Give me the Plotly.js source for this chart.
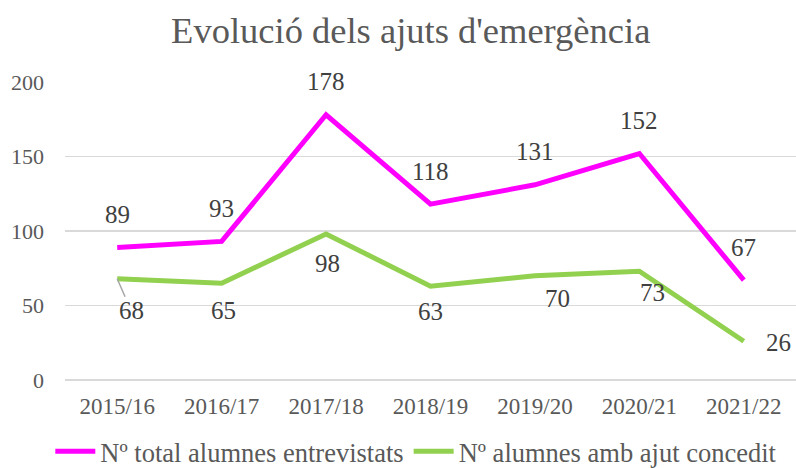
<!DOCTYPE html>
<html>
<head>
<meta charset="utf-8">
<script src="https://cdn.plot.ly/plotly-3.0.1.min.js"></script>
<style>html,body{margin:0;padding:0;background:#fff;}#chart{width:796px;height:468px;}</style>
</head>
<body>
<div id="chart"></div>
<script>
const categories = ['2015/16', '2016/17', '2017/18', '2018/19', '2019/20', '2020/21', '2021/22'];
const totalEntrevistats = [89, 93, 178, 118, 131, 152, 67];
const ambAjut = [68, 65, 98, 63, 70, 73, 26];
const seriesNames = ['Nº total alumnes entrevistats', 'Nº alumnes amb ajut concedit'];

// label offsets in pixels (style only)
const totalLabelDx = [0, 0, 0, 0, 0, 0, 0];
const totalLabelDy = [33, 33, 33, 33, 33, 33, 33];
const ajutLabelDx = [14, 2, 1, 0, 23, 13, 35];
const ajutLabelDy = [-32, -27, -30, -25, -23, -21, -1];

const FONT = 'Liberation Serif, Times New Roman, serif';
const TXT = '#595959';
const MAGENTA = '#FF00FF';
const GREEN = '#92D050';

const traces = [
  {x: categories, y: totalEntrevistats, name: seriesNames[0], type: 'scatter', mode: 'lines',
   line: {color: MAGENTA, width: 5}},
  {x: categories, y: ambAjut, name: seriesNames[1], type: 'scatter', mode: 'lines',
   line: {color: GREEN, width: 5}}
];

const annotations = [];
categories.forEach((c, i) => {
  annotations.push({x: c, y: totalEntrevistats[i], xref: 'x', yref: 'y', text: String(totalEntrevistats[i]),
    showarrow: false, xshift: totalLabelDx[i], yshift: totalLabelDy[i],
    font: {family: FONT, size: 25, color: '#404040'}});
  if (i === 0) {
    annotations.push({x: c, y: ambAjut[i], xref: 'x', yref: 'y', text: String(ambAjut[i]),
      showarrow: true, arrowhead: 0, arrowwidth: 1.5, arrowcolor: '#a6a6a6',
      ax: ajutLabelDx[i], ay: -ajutLabelDy[i], borderpad: 0, standoff: 0,
      font: {family: FONT, size: 25, color: '#404040'}});
  } else {
    annotations.push({x: c, y: ambAjut[i], xref: 'x', yref: 'y', text: String(ambAjut[i]),
      showarrow: false, xshift: ajutLabelDx[i], yshift: ajutLabelDy[i],
      font: {family: FONT, size: 25, color: '#404040'}});
  }
});

const layout = {
  width: 796, height: 468,
  margin: {l: 65, r: 0, t: 82, b: 88},
  paper_bgcolor: '#ffffff', plot_bgcolor: '#ffffff',
  font: {family: FONT, color: TXT},
  title: {text: "Evolució dels ajuts d'emergència", font: {family: FONT, size: 36.5, color: TXT},
    x: 0.516, xanchor: 'center', xref: 'container', y: 0.935, yanchor: 'middle', yref: 'container'},
  xaxis: {type: 'category', range: [-0.5, 6.5], showgrid: false, zeroline: false, showline: false,
    ticks: '', tickfont: {family: FONT, size: 23, color: TXT}, ticklabelstandoff: 10, fixedrange: true},
  yaxis: {range: [0, 200], dtick: 50, showgrid: true, gridcolor: '#d9d9d9', gridwidth: 1.5,
    zeroline: true, zerolinecolor: '#d9d9d9', zerolinewidth: 1.5, showline: false, ticks: '',
    tickfont: {family: FONT, size: 22, color: TXT}, ticklabelstandoff: 20, fixedrange: true},
  legend: {orientation: 'h', x: 0.523, xanchor: 'center', xref: 'container',
    y: 0.035, yanchor: 'middle', yref: 'container',
    font: {family: FONT, size: 26.5, color: TXT}, itemwidth: 40, tracegroupgap: 0},
  annotations: annotations,
  showlegend: true
};

Plotly.newPlot('chart', traces, layout, {displayModeBar: false, staticPlot: true});
</script>
</body>
</html>
